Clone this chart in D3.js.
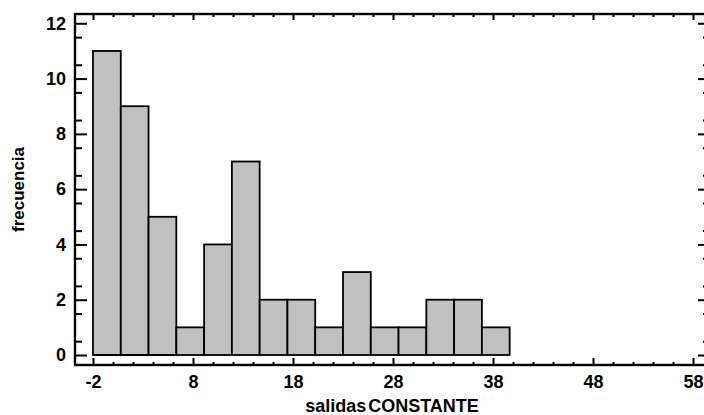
<!DOCTYPE html>
<html>
<head>
<meta charset="utf-8">
<script src="https://cdn.jsdelivr.net/npm/d3@7"></script>
<style>
  body { margin: 0; background: #fff; }
  text { font-family: "Liberation Sans", Arial, sans-serif; font-weight: bold; }
</style>
</head>
<body>
<div id="histogram"></div>
<script>
// histogram data: counts per bin, bins run from bin_start to bin_end
var counts = [11, 9, 5, 1, 4, 7, 2, 2, 1, 3, 1, 1, 2, 2, 1, 0, 0, 0];
var bin_start = -2;
var bin_end = 48;
var x_ticks = [-2, 8, 18, 28, 38, 48, 58];
var y_ticks = [0, 2, 4, 6, 8, 10, 12];
var x_title = 'salidas CONSTANTE';
var y_title = 'frecuencia';

// SVG properties
var width = 704;
var height = 415;
var frame = {left: 75, top: 14, right: 710, bottom: 365};

var svg = d3.select('#histogram')
            .append('svg')
            .attr('width', width)
            .attr('height', height);

var bin_width = (bin_end - bin_start) / counts.length;

var scale_x = d3.scaleLinear()
            .domain([-2, 58])
            .range([93, 693]);
var scale_y = d3.scaleLinear()
            .domain([0, 12])
            .range([355, 23.3]);

// bars
var bars = svg.append('g');
bars.selectAll('rect')
    .data(counts)
    .enter()
    .append('rect')
    .filter(function(d){ return d > 0; })
    .attr('x', function(d, i){ return scale_x(bin_start + i * bin_width); })
    .attr('y', function(d){ return scale_y(d); })
    .attr('width', function(d, i){
        return scale_x(bin_start + (i + 1) * bin_width) - scale_x(bin_start + i * bin_width);
    })
    .attr('height', function(d){ return scale_y(0) - scale_y(d); })
    .attr('fill', '#c0c0c0')
    .attr('stroke', '#000')
    .attr('stroke-width', 1.8);

// empty bins show as a line on the baseline
bars.selectAll('line')
    .data(counts)
    .enter()
    .append('line')
    .filter(function(d){ return d === 0; })
    .attr('x1', function(d, i){ return scale_x(bin_start + i * bin_width); })
    .attr('x2', function(d, i){ return scale_x(bin_start + (i + 1) * bin_width); })
    .attr('y1', scale_y(0))
    .attr('y2', scale_y(0))
    .attr('stroke', '#000')
    .attr('stroke-width', 1.8);

// minor tick positions
var x_minor = d3.range(-2, 59, 2).filter(function(v){ return x_ticks.indexOf(v) < 0; });
var y_minor = d3.range(0.5, 12.5, 1);

function style_axis(g) {
    g.select('.domain').remove();
    g.selectAll('line').attr('stroke', '#000').attr('stroke-width', 2);
    g.selectAll('text').attr('font-size', 18).attr('fill', '#000');
}

// plain hyphen for negatives, like the original
function fmt(v) { return String(v); }

// left
svg.append('g').attr('transform', 'translate(' + frame.left + ',0)')
    .call(d3.axisLeft(scale_y).tickValues(y_ticks).tickSize(-12).tickPadding(9).tickFormat(fmt))
    .call(style_axis);
svg.append('g').attr('transform', 'translate(' + frame.left + ',0)')
    .call(d3.axisLeft(scale_y).tickValues(y_minor).tickSize(-7).tickFormat(''))
    .call(style_axis);
// right
svg.append('g').attr('transform', 'translate(' + frame.right + ',0)')
    .call(d3.axisRight(scale_y).tickValues(y_ticks).tickSize(-12).tickFormat(''))
    .call(style_axis);
svg.append('g').attr('transform', 'translate(' + frame.right + ',0)')
    .call(d3.axisRight(scale_y).tickValues(y_minor).tickSize(-7).tickFormat(''))
    .call(style_axis);
// bottom
svg.append('g').attr('transform', 'translate(0,' + frame.bottom + ')')
    .call(d3.axisBottom(scale_x).tickValues(x_ticks).tickSize(-7).tickPadding(10).tickFormat(fmt))
    .call(style_axis);
svg.append('g').attr('transform', 'translate(0,' + frame.bottom + ')')
    .call(d3.axisBottom(scale_x).tickValues(x_minor).tickSize(-3).tickFormat(''))
    .call(style_axis);
// top
svg.append('g').attr('transform', 'translate(0,' + frame.top + ')')
    .call(d3.axisTop(scale_x).tickValues(x_ticks).tickSize(-6).tickFormat(''))
    .call(style_axis);
svg.append('g').attr('transform', 'translate(0,' + frame.top + ')')
    .call(d3.axisTop(scale_x).tickValues(x_minor).tickSize(-3).tickFormat(''))
    .call(style_axis);

// frame
svg.append('rect')
    .attr('x', frame.left)
    .attr('y', frame.top)
    .attr('width', frame.right - frame.left)
    .attr('height', frame.bottom - frame.top)
    .attr('fill', 'none')
    .attr('stroke', '#000')
    .attr('stroke-width', 2.4);

// titles
svg.append('text')
    .text(x_title)
    .attr('x', 392)
    .attr('y', 412)
    .attr('font-size', 18)
    .attr('word-spacing', -3)
    .attr('text-anchor', 'middle');

svg.append('text')
    .text(y_title)
    .attr('transform', 'translate(24,' + (frame.top + frame.bottom) / 2 + ') rotate(-90)')
    .attr('font-size', 17)
    .attr('text-anchor', 'middle');
</script>
</body>
</html>
